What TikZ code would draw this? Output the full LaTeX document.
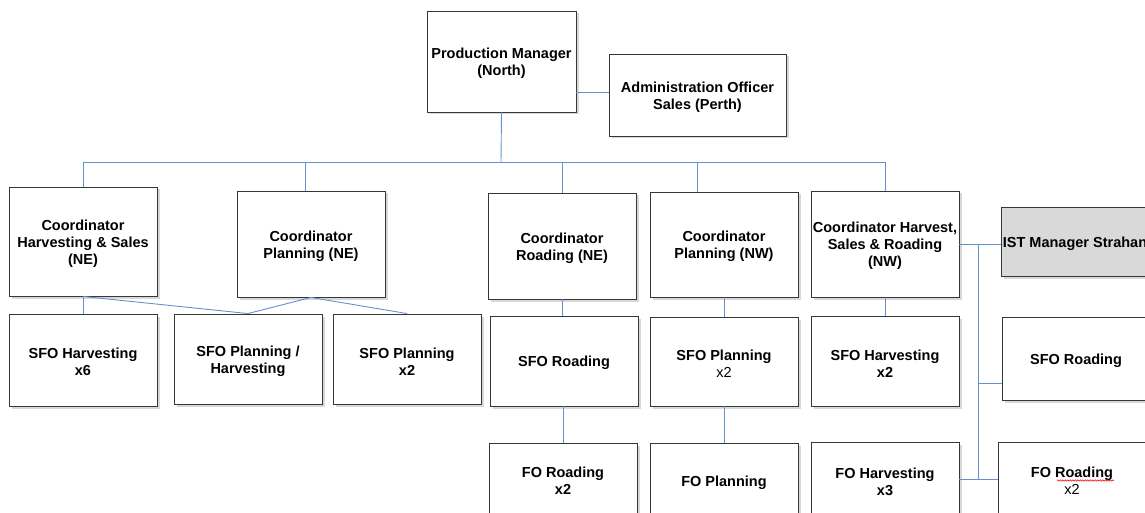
\documentclass[tikz,border=0pt]{standalone}
\usepackage{fontspec}
\setmainfont{Liberation Sans}
\usetikzlibrary{shadows,decorations.pathmorphing}
\definecolor{conn}{RGB}{100,145,205}
\definecolor{boxedge}{RGB}{55,55,55}
\definecolor{istfill}{RGB}{217,217,217}
\newcommand{\tstrut}{\rule{0pt}{15pt}}
\begin{document}
\begin{tikzpicture}[x=1pt,y=-1pt,
  orgbox/.style={draw=boxedge, line width=0.9pt, fill=white, align=center, inner sep=1pt,
    font=\fontsize{14.5}{17}\selectfont\bfseries,
    drop shadow={shadow xshift=2.5pt, shadow yshift=-2.5pt, fill=black!30}},
  wh/.style 2 args={minimum width=#1pt, minimum height=#2pt},
  link/.style={draw=conn, line width=0.9pt}]
\useasboundingbox (0,0) rectangle (1145,513);
\clip (0,0) rectangle (1145,513);

% top level
\node[orgbox, wh={149}{101}] (pm) at (501.5,61.5) {\tstrut Production Manager\\(North)};
\node[orgbox, wh={177}{82}] (admin) at (697.5,95) {\tstrut Administration Officer\\Sales (Perth)};

% coordinators
\node[orgbox, wh={148}{109}] (c1) at (83,241.5) {\tstrut Coordinator\\Harvesting \& Sales\\(NE)};
\node[orgbox, wh={148}{106}] (c2) at (311,244) {\tstrut Coordinator\\Planning (NE)};
\node[orgbox, wh={148}{106}] (c3) at (562,246) {\tstrut Coordinator\\Roading (NE)};
\node[orgbox, wh={148}{105}] (c4) at (724,244.5) {\tstrut Coordinator\\Planning (NW)};
\node[orgbox, wh={148}{106}] (c5) at (885,244) {\tstrut Coordinator Harvest,\\Sales \& Roading\\(NW)};
\node[orgbox, wh={148}{69}, fill=istfill] (ist) at (1075,241.5) {\tstrut IST Manager Strahan};

% SFO row
\node[orgbox, wh={148}{92}] (s1) at (83,360) {\tstrut SFO Harvesting\\x6};
\node[orgbox, wh={148}{90}] (s2) at (248,359) {\tstrut SFO Planning /\\Harvesting};
\node[orgbox, wh={148}{90}] (s3) at (407,359) {\tstrut SFO Planning\\x2};
\node[orgbox, wh={148}{90}] (s4) at (564,361) {\tstrut SFO Roading};
\node[orgbox, wh={148}{89}] (s5) at (724,361.5) {\tstrut SFO Planning\\{\mdseries x2}};
\node[orgbox, wh={148}{90}] (s6) at (885,361) {\tstrut SFO Harvesting\\x2};
\node[orgbox, wh={148}{83}] (s7) at (1076,358.5) {\tstrut SFO Roading};

% FO row
\node[orgbox, wh={148}{71}] (f1) at (563,478.5) {\tstrut FO Roading\\x2};
\node[orgbox, wh={148}{76}] (f2) at (724,481) {\tstrut FO Planning};
\node[orgbox, wh={148}{75}] (f3) at (885,479.5) {\tstrut FO Harvesting\\x3};
\node[orgbox, wh={148}{73}] (f4) at (1072,478.5) {\tstrut FO Roading\\{\mdseries x2}};
\draw[red, line width=0.5pt, decorate, decoration={snake, amplitude=0.7pt, segment length=2.5pt}]
  (1057,480.5) -- (1114,480.5);

% connectors
\coordinate (bus) at (501,162);
\coordinate (pa) at (0,92);
\coordinate (rv) at (978,0);
\draw[link] (pm.east |- pa) -- (admin.west |- pa);
\draw[link] (pm.south) -- (bus);
\draw[link] (c1.north |- bus) -- (c5.north |- bus);
\draw[link] (c1.north |- bus) -- (c1.north);
\draw[link] ([xshift=-6pt]c2.north |- bus) -- ([xshift=-6pt]c2.north);
\draw[link] (c3.north |- bus) -- (c3.north);
\draw[link] ([xshift=-27pt]c4.north |- bus) -- ([xshift=-27pt]c4.north);
\draw[link] (c5.north |- bus) -- (c5.north);

\draw[link] (c1.south) -- (s1.north);
\draw[link] (c1.south) -- (s2.north);
\draw[link] (c2.south) -- (s2.north);
\draw[link] (c2.south) -- (s3.north);
\draw[link] (c3.south) -- (c3.south |- s4.north);
\draw[link] (f1.north |- s4.south) -- (f1.north);
\draw[link] (c4.south) -- (s5.north);
\draw[link] (s5.south) -- (f2.north);
\draw[link] (c5.south) -- (s6.north);

\draw[link] (c5.east) -- (c5.east -| ist.west);
\draw[link] (rv |- c5.east) -- (rv |- f3.east);
\draw[link] (rv |- 0,383) -- (s7.west |- 0,383);
\draw[link] (f3.east) -- (f3.east -| f4.west);
\end{tikzpicture}
\end{document}
